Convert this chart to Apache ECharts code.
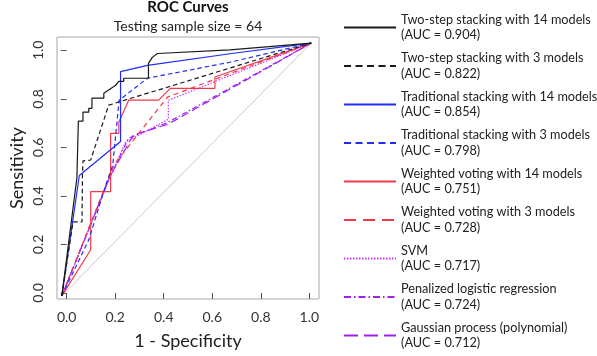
<!DOCTYPE html>
<html>
<head>
<meta charset="utf-8">
<script src="https://cdn.jsdelivr.net/npm/echarts@6/dist/echarts.min.js"></script>
<style>
  html, body { margin: 0; padding: 0; background: #fff; }
  #chart { width: 597px; height: 356px; }
</style>
</head>
<body>
<div id="chart"></div>
<script>
// 曲线数据 [1 - 特异度, 灵敏度]
const twoStep14 = [[-0.02,-0.012],[0.042,0.474],[0.048,0.708],[0.067,0.708],[0.067,0.745],[0.091,0.745],[0.091,0.761],[0.104,0.761],[0.104,0.803],[0.153,0.803],[0.153,0.823],[0.202,0.856],[0.214,0.872],[0.235,0.872],[0.235,0.885],[0.337,0.885],[0.337,0.946],[0.353,0.971],[0.374,0.987],[0.673,1.002],[1.008,1.03]]
const twoStep3 = [[-0.02,-0.012],[0.026,0.293],[0.063,0.293],[0.065,0.486],[0.067,0.544],[0.099,0.548],[0.173,0.774],[0.194,0.78],[0.21,0.786],[0.415,0.848],[1.008,1.03]]
const trad14 = [[-0.02,-0.012],[0.052,0.484],[0.222,0.624],[0.222,0.912],[0.333,0.938],[0.673,0.986],[1.008,1.03]]
const trad3 = [[-0.02,-0.012],[0.091,0.219],[0.161,0.445],[0.19,0.527],[0.216,0.794],[0.333,0.885],[0.673,0.951],[1.008,1.03]]
const vote14 = [[-0.02,-0.012],[0.099,0.178],[0.099,0.418],[0.181,0.418],[0.181,0.658],[0.215,0.658],[0.215,0.705],[0.256,0.795],[0.379,0.795],[0.427,0.843],[0.611,0.843],[0.611,0.89],[1.008,1.03]]
const vote3 = [[-0.02,-0.012],[0.194,0.527],[0.415,0.807],[1.008,1.03]]
const svm = [[-0.02,-0.012],[0.173,0.466],[0.243,0.622],[0.419,0.716],[0.419,0.794],[1.008,1.03]]
const penalized = [[-0.02,-0.012],[0.173,0.466],[0.255,0.638],[0.419,0.704],[1.008,1.03]]
const gaussian = [[-0.02,-0.012],[0.181,0.486],[0.275,0.651],[0.419,0.696],[1.008,1.03]]
const diagonal = [[-0.023,-0.014],[1.008,1.03]]

const names = [
  'Two-step stacking with 14 models',
  'Two-step stacking with 3 models',
  'Traditional stacking with 14 models',
  'Traditional stacking with 3 models',
  'Weighted voting with 14 models',
  'Weighted voting with 3 models',
  'SVM',
  'Penalized logistic regression',
  'Gaussian process (polynomial)'
]
const aucs = ['0.904', '0.822', '0.854', '0.798', '0.751', '0.728', '0.717', '0.724', '0.712']
const tickValues = [0, 0.2, 0.4, 0.6, 0.8, 1.0]

// 线型（图中 / 图例）
const styles = [
  { data: twoStep14, color: '#1a1a1a', type: 'solid', legendType: 'solid' },
  { data: twoStep3, color: '#1a1a1a', type: [4.5, 3], legendType: [7, 4.5] },
  { data: trad14, color: '#1f2bff', type: 'solid', legendType: 'solid' },
  { data: trad3, color: '#1f2bff', type: [4.5, 3], legendType: [7, 4.5] },
  { data: vote14, color: '#f03a4a', type: 'solid', legendType: 'solid' },
  { data: vote3, color: '#f03a4a', type: [5, 4], legendType: [12, 7] },
  { data: svm, color: '#cc33ff', type: [1.5, 1.5], legendType: [1.5, 1.5] },
  { data: penalized, color: '#a020f0', type: [5, 2.5, 1.5, 2.5], legendType: [7, 3, 1.5, 3] },
  { data: gaussian, color: '#a020f0', type: [8, 4], legendType: [14, 6] }
]

const font = 'Lato, "Open Sans", sans-serif'
const chart = echarts.init(document.getElementById('chart'))

const series = [{
  name: 'ref',
  type: 'line',
  data: diagonal,
  symbol: 'none',
  silent: true,
  z: 1,
  lineStyle: { color: '#c8c8c8', width: 1 }
}]
styles.forEach((s, i) => {
  series.push({
    name: names[i],
    type: 'line',
    data: s.data,
    symbol: 'none',
    z: 20 - i,
    lineStyle: { color: s.color, width: 1.2, type: s.type },
    itemStyle: { color: s.color }
  })
})

chart.setOption({
  animation: false,
  title: [
    { text: 'ROC Curves', left: 188, top: 0, textAlign: 'center', padding: 0,
      textStyle: { fontFamily: font, fontSize: 15, fontWeight: 'bold', color: '#111' } },
    { text: 'Testing sample size = 64', left: 188, top: 19, textAlign: 'center', padding: 0,
      textStyle: { fontFamily: font, fontSize: 14, fontWeight: 'normal', color: '#222' } }
  ],
  legend: {
    orient: 'vertical',
    left: 343,
    top: 12,
    padding: 0,
    itemWidth: 52,
    itemHeight: 0.5,
    itemGap: 7.5,
    selectedMode: false,
    data: names.map((n, i) => ({
      name: n,
      itemStyle: { opacity: 0 },
      lineStyle: { width: 2, type: styles[i].legendType }
    })),
    formatter: name => name + '\n(AUC = ' + aucs[names.indexOf(name)] + ')',
    textStyle: { fontFamily: font, fontSize: 12.7, lineHeight: 15.5, color: '#222', overflow: 'none' }
  },
  grid: {
    left: 57, top: 37, width: 262, height: 262,
    show: true, borderColor: '#a8a8a8', borderWidth: 1,
    outerBoundsMode: 'none'
  },
  xAxis: {
    type: 'value',
    min: -0.04, max: 1.04,
    name: '1 - Specificity',
    nameLocation: 'middle',
    nameGap: 33,
    nameTextStyle: { fontFamily: font, fontSize: 18, color: '#222' },
    axisLine: { show: false },
    axisTick: { show: true, length: 6, customValues: tickValues, lineStyle: { color: '#555' } },
    axisLabel: { customValues: tickValues, margin: 11, formatter: v => v.toFixed(1),
      fontFamily: font, fontSize: 14, color: '#333' },
    splitLine: { show: false }
  },
  yAxis: {
    type: 'value',
    min: -0.025, max: 1.055,
    name: 'Sensitivity',
    nameLocation: 'middle',
    nameGap: 31,
    nameTextStyle: { fontFamily: font, fontSize: 18, color: '#222' },
    axisLine: { show: false },
    axisTick: { show: true, length: 6, customValues: tickValues, lineStyle: { color: '#555' } },
    axisLabel: { customValues: tickValues, margin: 12, rotate: 90, formatter: v => v.toFixed(1),
      fontFamily: font, fontSize: 14, color: '#333' },
    splitLine: { show: false }
  },
  series: series
})
</script>
</body>
</html>
